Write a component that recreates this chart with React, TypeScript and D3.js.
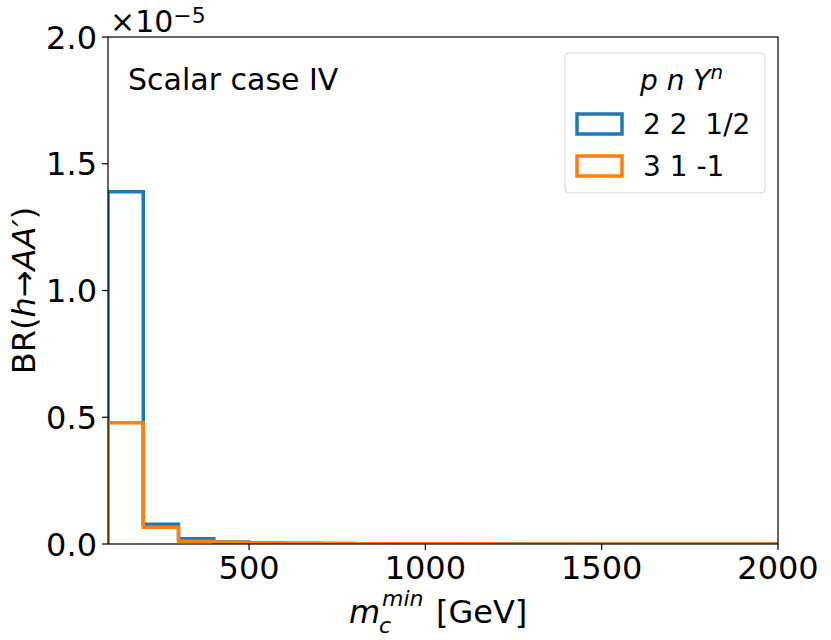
import * as d3 from "d3";

// bin edges in GeV (100 .. 2000, width 100)
const binEdges = d3.range(100, 2001, 100);

// BR values in units of 1e-5, one per bin
const caseA = [1.39, 0.078, 0.021, 0.008, 0.004, 0.0025, 0.0018, 0.0012, 0.001, 0.0008, 0.0006, 0.0005, 0.0004, 0.0003, 0.0003, 0.0002, 0.0002, 0.0001, 0.0001];
const caseB = [0.478, 0.066, 0.011, 0.007, 0.004, 0.002, 0.0015, 0.001, 0.0008, 0.0006, 0.0005, 0.0004, 0.0003, 0.0002, 0.0002, 0.0001, 0.0001, 0.0001, 0.0001];

const xTicks = [500, 1000, 1500, 2000];
const yTicks = [0, 0.5, 1.0, 1.5, 2.0];

const W = 831;
const H = 640;
const m = { left: 108, right: 778, top: 37, bottom: 544 };

const x = d3.scaleLinear().domain([100, 2000]).range([m.left, m.right]);
const y = d3.scaleLinear().domain([0, 2]).range([m.bottom, m.top]);

// step outline like matplotlib histtype="step"
function stepPath(vals: number[]) {
  const pts: [number, number][] = [[binEdges[0], 0]];
  vals.forEach((v, i) => {
    pts.push([binEdges[i], v]);
    pts.push([binEdges[i + 1], v]);
  });
  pts.push([binEdges[binEdges.length - 1], 0]);
  return d3.line<[number, number]>()
    .x(d => x(d[0]))
    .y(d => y(d[1]))(pts) as string;
}

const font = "DejaVu Sans, sans-serif";

export default function App() {
  return (
    <svg width={W} height={H} style={{ position: "absolute", left: 0, top: 0 }} fontFamily={font}>
      <rect width={W} height={H} fill="#fff" />
      <defs>
        <clipPath id="plot">
          <rect x={m.left} y={m.top} width={m.right - m.left} height={m.bottom - m.top} />
        </clipPath>
      </defs>

      <g clipPath="url(#plot)" fill="none" strokeWidth={3.5} strokeLinejoin="miter">
        <path d={stepPath(caseA)} stroke="#1f77b4" />
        <path d={stepPath(caseB)} stroke="#ff7f0e" />
      </g>

      {/* frame */}
      <rect x={m.left} y={m.top} width={m.right - m.left} height={m.bottom - m.top}
        fill="none" stroke="#000" strokeWidth={1.2} />

      {/* x ticks */}
      {xTicks.map(t => (
        <g key={t} transform={`translate(${x(t)},${m.bottom})`}>
          <line y2={6} stroke="#000" strokeWidth={1.2} />
          <text y={35} textAnchor="middle" fontSize={32}>{t}</text>
        </g>
      ))}

      {/* y ticks */}
      {yTicks.map(t => (
        <g key={t} transform={`translate(${m.left},${y(t)})`}>
          <line x2={-6} stroke="#000" strokeWidth={1.2} />
          <text x={-11} dy="0.36em" textAnchor="end" fontSize={32}>{t.toFixed(1)}</text>
        </g>
      ))}

      {/* offset text */}
      <text x={110} y={32} fontSize={30}>
        ×10<tspan dy={-9} fontSize={22}>−5</tspan>
      </text>

      {/* x label: m_c^min [GeV] */}
      <g fontSize={32}>
        <text x={349} y={623} fontStyle="italic">m</text>
        <text x={382} y={606} fontStyle="italic" fontSize={22}>min</text>
        <text x={379} y={633} fontStyle="italic" fontSize={22}>c</text>
        <text x={436} y={623}>[GeV]</text>
      </g>
      <text transform={`translate(35,${(m.top + m.bottom) / 2}) rotate(-90)`} textAnchor="middle" fontSize={32}>
        BR(<tspan fontStyle="italic">h</tspan>→<tspan fontStyle="italic">AA′</tspan>)
      </text>

      <text x={128} y={90} fontSize={30}>Scalar case IV</text>

      {/* legend */}
      <g>
        <rect x={565} y={53} width={200} height={140} rx={4} fill="#fff" fillOpacity={0.8} stroke="#d6d6d6" strokeWidth={1} />
        <text x={640} y={90} fontSize={28} fontStyle="italic">
          p n Y<tspan dy={-11} fontSize={20}>n</tspan>
        </text>
        <rect x={577} y={114} width={45} height={20} fill="none" stroke="#1f77b4" strokeWidth={3.5} />
        <text x={643} y={134} fontSize={28} style={{ whiteSpace: "pre" }}>{"2 2  1/2"}</text>
        <rect x={577} y={156} width={45} height={20} fill="none" stroke="#ff7f0e" strokeWidth={3.5} />
        <text x={643} y={176} fontSize={28}>3 1 -1</text>
      </g>
    </svg>
  );
}
